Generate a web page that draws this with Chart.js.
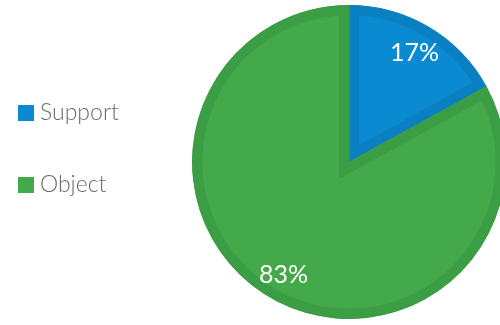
<!DOCTYPE html>
<html>
<head>
<meta charset="utf-8">
<script src="https://cdn.jsdelivr.net/npm/chart.js@4/dist/chart.umd.min.js"></script>
<style>
  html, body { margin: 0; padding: 0; background: #ffffff; overflow: hidden; }
  #wrap { position: relative; width: 510px; height: 325px; }
</style>
</head>
<body>
<div id="wrap"><canvas id="c"></canvas></div>
<script>
const categories = ["Support", "Object"];
const values = [17, 83];
const fillColors = ["#0a8bd1", "#43a94b"];
const borderColors = ["#0a7fc1", "#3c9e44"];

const FONT = 'Lato, "Open Sans", sans-serif';

const sliceLabels = {
  id: 'sliceLabels',
  afterDatasetsDraw(chart) {
    const ctx = chart.ctx;
    const meta = chart.getDatasetMeta(0);
    const data = chart.data.datasets[0].data;
    const total = data.reduce((a, b) => a + b, 0);
    ctx.save();
    ctx.fillStyle = '#ffffff';
    ctx.font = '25px ' + FONT;
    ctx.textAlign = 'center';
    ctx.textBaseline = 'middle';
    meta.data.forEach((arc, i) => {
      const p = arc.getProps(['x', 'y', 'startAngle', 'endAngle', 'outerRadius'], true);
      const mid = (p.startAngle + p.endAngle) / 2;
      const r = p.outerRadius * 0.82;
      const pct = Math.round(data[i] / total * 100) + '%';
      ctx.fillText(pct, p.x + Math.cos(mid) * r, p.y + Math.sin(mid) * r + 2);
    });
    ctx.restore();
  }
};

const sideLegend = {
  id: 'sideLegend',
  afterDraw(chart) {
    const ctx = chart.ctx;
    const labels = chart.data.labels;
    const ds = chart.data.datasets[0];
    ctx.save();
    ctx.font = '300 23px ' + FONT;
    ctx.textBaseline = 'middle';
    ctx.textAlign = 'left';
    labels.forEach((lab, i) => {
      const top = 105 + i * 72;
      ctx.fillStyle = ds.backgroundColor[i];
      ctx.fillRect(18, top, 16, 16);
      ctx.fillStyle = '#6a6a6a';
      ctx.fillText(lab, 40, top + 8);
    });
    ctx.restore();
  }
};

new Chart(document.getElementById('c'), {
  type: 'pie',
  data: {
    labels: categories,
    datasets: [{
      data: values,
      backgroundColor: fillColors,
      borderColor: borderColors,
      borderWidth: 10,
      borderAlign: 'inner',
      borderJoinStyle: 'miter'
    }]
  },
  options: {
    responsive: true,
    maintainAspectRatio: false,
    animation: false,
    events: [],
    layout: { padding: { left: 192, top: 5, bottom: 6, right: 4 } },
    plugins: {
      legend: { display: false },
      tooltip: { enabled: false }
    }
  },
  plugins: [sliceLabels, sideLegend]
});
</script>
</body>
</html>
